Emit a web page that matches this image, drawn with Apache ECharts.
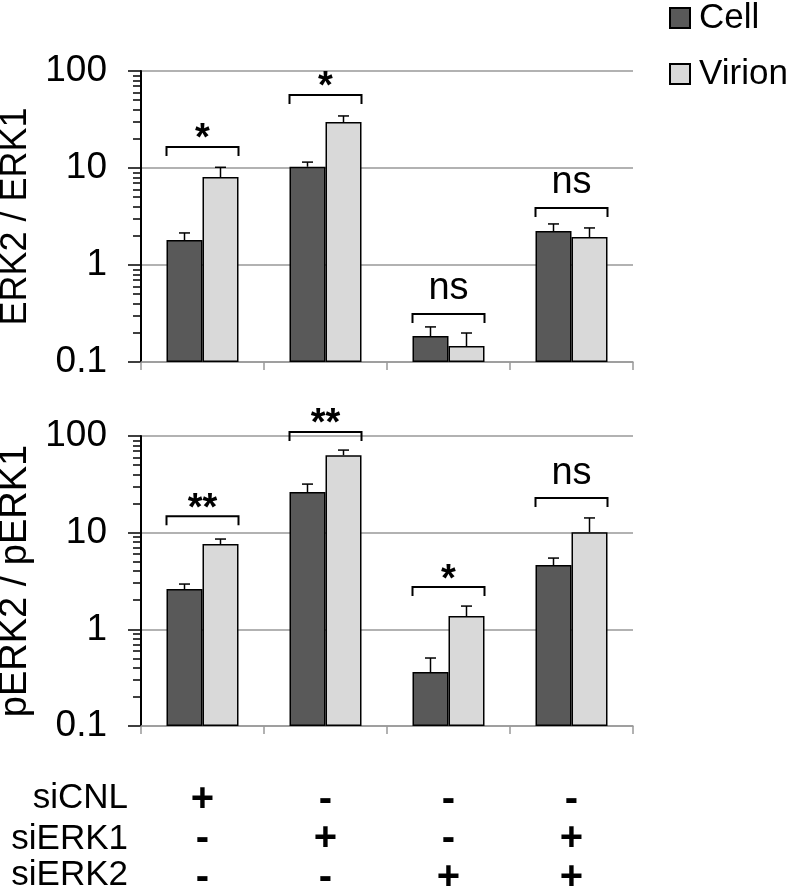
<!DOCTYPE html>
<html>
<head>
<meta charset="utf-8">
<script src="https://cdn.jsdelivr.net/npm/echarts@6/dist/echarts.min.js"></script>
<style>html,body{margin:0;padding:0;background:#fff}#c{width:800px;height:889px}</style>
</head>
<body>
<div id="c"></div>
<script>
// ---------- data ----------
var categories = ['A', 'B', 'C', 'D'];
var seriesNames = ['Cell', 'Virion'];
var panelTitles = ['ERK2 / ERK1', 'pERK2 / pERK1'];
var conditionNames = ['siCNL', 'siERK1', 'siERK2'];
var conditionSigns = [
  ['+', '-', '-', '-'],
  ['-', '+', '-', '+'],
  ['-', '-', '+', '+']
];
var yTickLabels = [0.1, 1, 10, 100];
var minorTickValues = [0.2,0.3,0.4,0.5,0.6,0.7,0.8,0.9,2,3,4,5,6,7,8,9,20,30,40,50,60,70,80,90];

// top panel: ERK2 / ERK1
var erkCell = [1.81, 10.3, 0.185, 2.24];
var erkCellErr = [0.33, 1.2, 0.045, 0.41];
var erkVirion = [8.07, 29.8, 0.146, 1.94];
var erkVirionErr = [2.1, 4.6, 0.053, 0.47];
var erkBracket = [16.5, 56.6, 0.313, 3.87];
var erkSig = ['*', '*', 'ns', 'ns'];

// bottom panel: pERK2 / pERK1
var perkCell = [2.61, 26.3, 0.361, 4.62];
var perkCellErr = [0.33, 5.5, 0.144, 0.84];
var perkVirion = [7.62, 63.4, 1.37, 10.1];
var perkVirionErr = [0.97, 8.1, 0.37, 4.1];
var perkBracket = [14.8, 110, 2.74, 22.8];
var perkSig = ['**', '**', '*', 'ns'];

// ---------- styles ----------
var FONT = '"Liberation Sans", Arial, sans-serif';
var CELL_COLOR = '#595959';
var VIRION_COLOR = '#d9d9d9';
var BAR_W = 36;

var chart = echarts.init(document.getElementById('c'), null, {renderer: 'canvas'});

function errSeries(gi, name, vals, errs, side) {
  return {
    type: 'custom', xAxisIndex: gi, yAxisIndex: gi * 2, z: 5, silent: true, clip: false,
    data: vals.map(function (v, i) { return [i, v, errs[i]]; }),
    renderItem: function (params, api) {
      var i = api.value(0), v = api.value(1), e = api.value(2);
      var p0 = api.coord([i, v]);
      var p1 = api.coord([i, v + e]);
      var x = p0[0] + side * BAR_W / 2;
      return {
        type: 'group', children: [
          {type: 'line', shape: {x1: x, y1: p0[1], x2: x, y2: p1[1]}, style: {stroke: '#000', lineWidth: 1.5}},
          {type: 'line', shape: {x1: x - 5.5, y1: p1[1], x2: x + 5.5, y2: p1[1]}, style: {stroke: '#000', lineWidth: 1.5}}
        ]
      };
    }
  };
}

function bracketSeries(gi, levels, labels) {
  return {
    type: 'custom', xAxisIndex: gi, yAxisIndex: gi * 2, z: 6, silent: true, clip: false,
    data: levels.map(function (v, i) { return [i, v]; }),
    renderItem: function (params, api) {
      var i = api.value(0), v = api.value(1);
      var p = api.coord([i, v]);
      var hw = BAR_W;
      var txt = labels[params.dataIndex];
      var isNs = txt === 'ns';
      return {
        type: 'group', children: [
          {type: 'polyline', shape: {points: [[p[0] - hw, p[1] + 9], [p[0] - hw, p[1]], [p[0] + hw, p[1]], [p[0] + hw, p[1] + 9]]},
            style: {stroke: '#000', lineWidth: 2, fill: null}},
          {type: 'text', x: p[0], y: isNs ? p[1] - 25 : p[1] - 7,
            style: {text: txt, fill: '#000', font: (isNs ? '' : 'bold ') + '38px ' + FONT, align: 'center', verticalAlign: 'middle'}}
        ]
      };
    }
  };
}

function barSeries(gi, name, vals, color) {
  return {
    name: name, type: 'bar', xAxisIndex: gi, yAxisIndex: gi * 2,
    data: vals, barWidth: BAR_W, barGap: '0%',
    itemStyle: {color: color, borderColor: '#000', borderWidth: 1.5},
    emphasis: {disabled: true}
  };
}

var grids = [
  {left: 141, top: 71, width: 492, height: 291, outerBoundsMode: 'none', containLabel: false},
  {left: 141, top: 436, width: 492, height: 290, outerBoundsMode: 'none', containLabel: false}
];

var xAxes = [0, 1].map(function (gi) {
  return {
    type: 'category', gridIndex: gi, data: categories,
    axisLine: {lineStyle: {color: '#999', width: 1.5}},
    axisTick: {show: true, length: 8, lineStyle: {color: '#999', width: 1.5}},
    axisLabel: gi === 0 ? {show: false} : {
      show: true, margin: 54, lineHeight: 39,
      fontFamily: FONT, fontSize: 40, fontWeight: 'bold', color: '#000',
      formatter: function (val, idx) {
        return conditionSigns.map(function (r) { return r[idx]; }).join('\n');
      }
    },
    splitLine: {show: false}
  };
});

var yAxes = [];
panelTitles.forEach(function (nm, gi) {
  yAxes.push({
    type: 'log', logBase: 10, gridIndex: gi, min: 0.1, max: 100, startValue: 0.1,
    name: nm, nameLocation: 'middle', nameGap: gi === 0 ? 92 : 90, nameRotate: 90,
    nameTextStyle: {fontFamily: FONT, fontSize: gi === 0 ? 36 : 38, color: '#000'},
    axisLine: {show: true, lineStyle: {color: '#000', width: 2}},
    axisTick: {show: true, length: 13, customValues: yTickLabels, lineStyle: {color: '#000', width: 1.5}},
    axisLabel: {show: true, margin: 34, fontFamily: FONT, fontSize: 37, color: '#000', customValues: yTickLabels,
      formatter: function (v) { return String(v); }},
    splitLine: {show: true, lineStyle: {color: '#999', width: 1.5}}
  });
  yAxes.push({
    type: 'log', logBase: 10, gridIndex: gi, min: 0.1, max: 100, position: 'left',
    axisLine: {show: false},
    axisTick: {show: true, length: 8, customValues: minorTickValues, lineStyle: {color: '#000', width: 1.5}},
    axisLabel: {show: false},
    splitLine: {show: false}
  });
});

var series = [
  barSeries(0, 'Cell', erkCell, CELL_COLOR),
  barSeries(0, 'Virion', erkVirion, VIRION_COLOR),
  errSeries(0, 'Cell', erkCell, erkCellErr, -1),
  errSeries(0, 'Virion', erkVirion, erkVirionErr, 1),
  bracketSeries(0, erkBracket, erkSig),
  barSeries(1, 'Cell', perkCell, CELL_COLOR),
  barSeries(1, 'Virion', perkVirion, VIRION_COLOR),
  errSeries(1, 'Cell', perkCell, perkCellErr, -1),
  errSeries(1, 'Virion', perkVirion, perkVirionErr, 1),
  bracketSeries(1, perkBracket, perkSig)
];

var rowY = [798, 839, 875];
var graphics = conditionNames.map(function (n, i) {
  return {type: 'text', x: 128, y: rowY[i],
    style: {text: n, fill: '#000', font: '35px ' + FONT, align: 'right', verticalAlign: 'middle'}};
});

chart.setOption({
  animation: false,
  backgroundColor: '#fff',
  grid: grids,
  xAxis: xAxes,
  yAxis: yAxes,
  legend: {
    data: seriesNames, orient: 'vertical', left: 669, top: 0, padding: 0,
    itemWidth: 20, itemHeight: 20, itemGap: 20, icon: 'rect',
    textStyle: {fontFamily: FONT, fontSize: 35, color: '#000', lineHeight: 36, padding: [0, 0, 0, 4]},
    selectedMode: false
  },
  graphic: graphics,
  series: series
});
</script>
</body>
</html>
